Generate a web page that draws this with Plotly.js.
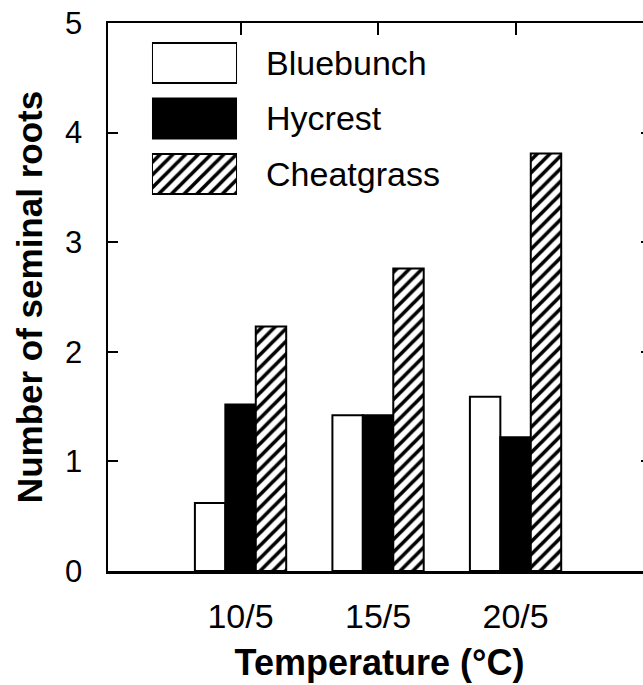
<!DOCTYPE html>
<html>
<head>
<meta charset="utf-8">
<script src="https://cdn.plot.ly/plotly-3.0.1.min.js"></script>
<style>
html,body{margin:0;padding:0;overflow:hidden;background:#fff;}
#chart{width:660px;height:685px;}
</style>
</head>
<body>
<div id="chart"></div>
<script>
// ---- data ----
const categories = ["10/5", "15/5", "20/5"];
const seriesNames = ["Bluebunch", "Hycrest", "Cheatgrass"];
const bluebunch = [0.62, 1.42, 1.59];
const hycrest = [1.52, 1.42, 1.22];
const cheatgrass = [2.23, 2.76, 3.81];
const yTicks = [0, 1, 2, 3, 4, 5];

const FONT = "Liberation Sans, Arial, Helvetica, sans-serif";
const styles = [
  {color: "white", line: {color: "black", width: 2}},
  {color: "black", line: {color: "black", width: 2}},
  {color: "white", line: {color: "black", width: 2},
   pattern: {shape: "/", fgcolor: "black", bgcolor: "white", size: 9, solidity: 0.4}}
];
const values = [bluebunch, hycrest, cheatgrass];

const traces = seriesNames.map((name, i) => ({
  type: "bar",
  name: name,
  x: categories,
  y: values[i],
  marker: styles[i],
  xaxis: "x",
  yaxis: "y",
  hoverinfo: "skip"
}));

// legend swatches drawn as an inset bar subplot (one trace per series)
seriesNames.forEach((name, i) => {
  traces.push({
    type: "bar",
    orientation: "h",
    y: [name],
    x: [1],
    base: 0,
    width: 0.72,
    xaxis: "x2",
    yaxis: "y2",
    marker: styles[i],
    hoverinfo: "skip"
  });
});

const layout = {
  width: 660,
  height: 685,
  margin: {l: 108, r: 9, t: 23, b: 114},
  paper_bgcolor: "white",
  plot_bgcolor: "white",
  showlegend: false,
  barmode: "group",
  bargap: 0.336,
  bargroupgap: 0,
  font: {family: FONT, color: "black"},
  xaxis: {
    type: "category",
    range: [-0.964, 2.985],
    showline: true, linecolor: "black", linewidth: 2.5,
    mirror: "ticks",
    ticks: "inside", ticklen: 12, tickwidth: 2, tickcolor: "black",
    showgrid: false, zeroline: false,
    tickfont: {family: FONT, size: 34, color: "black"},
    ticklabelstandoff: 14,
    title: {text: "<b>Temperature (°C)</b>", font: {family: FONT, size: 36, color: "black"}, standoff: 16}
  },
  yaxis: {
    range: [0, 5],
    tickvals: yTicks,
    ticktext: yTicks.map(String),
    showline: true, linecolor: "black", linewidth: 2.5,
    mirror: "ticks",
    ticks: "inside", ticklen: 10, tickwidth: 2, tickcolor: "black",
    showgrid: false, zeroline: false,
    tickfont: {family: FONT, size: 31, color: "black"},
    ticklabelstandoff: 17,
    title: {text: "<b>Number of seminal roots</b>", font: {family: FONT, size: 35, color: "black"}, standoff: 12}
  },
  xaxis2: {
    domain: [0.081, 0.2376],
    anchor: "y2",
    range: [0, 1],
    visible: false,
    fixedrange: true
  },
  yaxis2: {
    domain: [0.6738, 0.9777],
    anchor: "x2",
    type: "category",
    range: [2.5, -0.5],
    side: "right",
    showline: false, showgrid: false, zeroline: false,
    ticks: "",
    tickfont: {family: FONT, size: 34, color: "black"},
    ticklabelstandoff: 28,
    fixedrange: true
  }
};

Plotly.newPlot("chart", traces, layout, {staticPlot: true, displayModeBar: false});
</script>
</body>
</html>
